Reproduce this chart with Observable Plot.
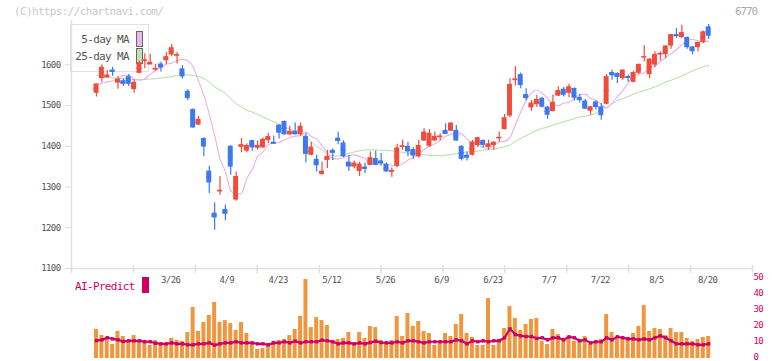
<!DOCTYPE html>
<html><head><meta charset="utf-8">
<script src="https://cdn.jsdelivr.net/npm/d3@7"></script>
<script src="https://cdn.jsdelivr.net/npm/@observablehq/plot@0.6"></script>
<style>
html,body{margin:0;padding:0;background:#fff;}
#wrap{position:relative;width:772px;height:361px;overflow:hidden;font-family:"DejaVu Sans Mono",monospace;}
#wrap svg{position:absolute;left:0;top:0;}
.t{position:absolute;white-space:nowrap;font-size:11px;line-height:12px;letter-spacing:-0.65px;}
</style></head><body>
<div id="wrap">
  <div style="position:absolute;left:70px;top:23.5px;width:79px;height:48px;box-sizing:border-box;border:1.5px solid #e2e2e2;background:#fff;"></div>
  <div class="t" style="left:70px;top:34px;width:59px;text-align:right;color:#555;">5-day MA</div>
  <div class="t" style="left:70px;top:50.5px;width:59px;text-align:right;color:#555;">25-day MA</div>
  <div style="position:absolute;left:136px;top:31px;width:7px;height:15.5px;box-sizing:border-box;border:1px solid #666;background:#eab8ea;"></div>
  <div style="position:absolute;left:136px;top:48px;width:7px;height:15.5px;box-sizing:border-box;border:1px solid #666;background:#bfe0b2;"></div>
  <div class="t" style="left:14px;top:6px;color:#c8c8c8;">(C)https://chartnavi.com/</div>
  <div class="t" style="left:735px;top:6px;color:#aaa;letter-spacing:-1.1px;">6770</div>
  <div class="t" style="left:75px;top:281px;color:#cc0066;">AI-Predict</div>
  <div style="position:absolute;left:142px;top:277px;width:7px;height:16px;background:#cc0066;"></div>
</div>
<script>
const dates = ["3/6","3/7","3/10","3/11","3/12","3/13","3/14","3/17","3/18","3/19","3/21","3/24","3/25","3/26","3/27","3/28","3/31",
"4/1","4/2","4/3","4/4","4/7","4/8","4/9","4/10","4/11","4/14","4/15","4/16","4/17","4/18","4/21","4/22","4/23","4/24","4/25","4/28","4/30",
"5/1","5/2","5/7","5/8","5/9","5/12","5/13","5/14","5/15","5/16","5/19","5/20","5/21","5/22","5/23","5/26","5/27","5/28","5/29","5/30",
"6/2","6/3","6/4","6/5","6/6","6/9","6/10","6/11","6/12","6/13","6/16","6/17","6/18","6/19","6/20","6/23","6/24","6/25","6/26","6/27","6/30",
"7/1","7/2","7/3","7/4","7/7","7/8","7/9","7/10","7/11","7/14","7/15","7/16","7/17","7/18","7/22","7/23","7/24","7/25","7/28","7/29","7/30","7/31",
"8/1","8/4","8/5","8/6","8/7","8/8","8/12","8/13","8/14","8/15","8/18","8/19","8/20","8/21"];

const open = [1530,1566,1568,1587,1555,1561,1571,1539,1579,1610,1600,1589,1602,1610,1624,1623,1590,1535,1490,1452,
1419,1339,1236,1290,1245,1400,1268,1398,1388,1414,1396,1396,1414,1410,1452,1461,1428,1437,1428,1424,
1378,1368,1331,1365,1390,1420,1408,1361,1349,1338,1349,1353,1370,1364,1356,1337,1351,1399,1400,1392,
1374,1413,1400,1413,1423,1439,1437,1439,1400,1378,1378,1402,1414,1397,1402,1420,1441,1474,1563,1576,
1527,1494,1502,1518,1496,1485,1523,1540,1530,1542,1520,1511,1486,1509,1497,1503,1581,1579,1566,1571,
1557,1579,1619,1576,1599,1626,1625,1646,1674,1667,1667,1644,1642,1655,1693];
const high = [1553,1600,1586,1594,1571,1566,1576,1563,1609,1627,1626,1601,1606,1630,1650,1630,1598,1539,1492,1473,
1421,1351,1261,1325,1256,1401,1337,1419,1406,1415,1413,1420,1432,1425,1453,1462,1449,1457,1457,1432,
1410,1378,1361,1390,1393,1435,1414,1378,1364,1361,1359,1386,1388,1382,1359,1347,1405,1415,1410,1397,
1414,1443,1441,1435,1431,1455,1458,1451,1401,1386,1415,1422,1416,1415,1411,1435,1478,1566,1596,1580,
1541,1512,1525,1519,1498,1526,1546,1544,1552,1543,1527,1515,1498,1511,1505,1576,1587,1580,1588,1575,
1584,1602,1647,1615,1632,1632,1647,1675,1689,1697,1668,1645,1656,1683,1699];
const low = [1521,1557,1567,1572,1540,1547,1547,1530,1579,1590,1600,1584,1582,1601,1620,1602,1565,1512,1444,1451,
1374,1284,1194,1280,1217,1329,1265,1384,1384,1388,1391,1395,1406,1405,1418,1427,1427,1428,1425,1359,
1377,1337,1329,1345,1365,1404,1372,1338,1345,1326,1333,1352,1352,1351,1336,1324,1347,1390,1374,1368,
1371,1412,1397,1412,1414,1429,1436,1412,1364,1364,1376,1397,1396,1390,1390,1410,1440,1470,1548,1541,
1512,1486,1496,1494,1466,1485,1522,1521,1519,1511,1506,1490,1476,1489,1464,1502,1562,1554,1562,1557,
1556,1576,1607,1566,1593,1609,1615,1638,1665,1664,1638,1625,1632,1652,1662];
const close = [1553,1594,1575,1582,1565,1552,1552,1557,1605,1612,1606,1591,1592,1620,1642,1625,1570,1517,1445,1466,
1398,1310,1224,1292,1233,1349,1326,1404,1402,1396,1402,1417,1424,1406,1432,1428,1437,1428,1449,1380,
1398,1352,1339,1375,1383,1412,1374,1349,1359,1356,1344,1372,1353,1357,1337,1341,1396,1401,1386,1376,
1402,1435,1432,1424,1425,1429,1457,1413,1368,1371,1410,1421,1402,1406,1410,1422,1470,1552,1565,1549,
1517,1506,1515,1496,1476,1508,1537,1525,1546,1518,1512,1491,1497,1495,1475,1571,1573,1569,1587,1568,
1581,1601,1620,1614,1625,1628,1646,1674,1670,1679,1642,1632,1655,1681,1670];

const ma5 = [1550,1555,1558,1561,1566,1574,1574,1565,1562,1566,1576,1586,1594,1601,1604,1610,1614,1610,1595,1560,
1525,1479,1427,1369,1338,1291,1282,1285,1321,1343,1375,1386,1404,1408,1409,1416,1421,1425,1426,1435,
1424,1418,1401,1384,1369,1369,1372,1377,1379,1375,1370,1356,1356,1357,1356,1353,1352,1357,1366,1372,
1380,1392,1400,1406,1414,1424,1429,1433,1430,1418,1408,1404,1397,1394,1402,1410,1412,1422,1452,1484,
1512,1531,1538,1530,1517,1502,1500,1506,1508,1518,1527,1528,1518,1513,1503,1494,1506,1522,1537,1555,
1574,1576,1581,1591,1597,1608,1618,1627,1637,1649,1659,1662,1659,1656,1658];
const ma25 = [1574,1572,1570,1568,1567,1566,1565,1564,1564,1564,1565,1566,1567,1569,1571,1574,1576,1575,1574,1571,
1566,1558,1546,1538,1530,1516,1505,1497,1488,1484,1478,1472,1466,1460,1454,1448,1442,1436,1431,1424,
1411,1400,1391,1381,1377,1376,1378,1383,1386,1389,1391,1391,1391,1390,1390,1389,1387,1385,1383,1382,
1381,1379,1378,1377,1377,1378,1380,1382,1384,1386,1387,1388,1390,1391,1393,1396,1399,1403,1412,1419,
1426,1433,1439,1444,1447,1452,1456,1460,1464,1468,1472,1474,1476,1482,1490,1496,1504,1512,1517,1522,
1528,1533,1537,1541,1546,1551,1558,1562,1567,1573,1579,1585,1590,1595,1599];

const volume = [18.2,14.4,11.7,8.8,17.0,13.8,11.3,14.4,11.3,10.9,8.2,11.3,9.4,9.4,12.6,11.3,10.7,16.3,32.0,17.0,
22.6,27.0,35.1,22.6,23.8,21.9,17.6,22.6,15.7,10.3,5.7,6.3,8.2,10.8,11.3,11.9,14.4,18.2,26.4,49.6,
19.4,25.7,23.8,20.7,10.9,11.9,12.6,16.3,9.6,16.3,12.6,20.1,19.4,11.3,10.3,11.3,26.4,13.8,28.2,20.1,
23.2,17.0,15.7,8.2,10.7,15.7,13.8,21.3,27.6,15.7,13.2,8.2,8.2,37.6,8.2,11.9,18.8,32.6,25.1,17.6,
21.3,24.5,25.1,10.7,8.8,18.2,15.1,11.3,13.8,10.7,10.7,13.8,8.8,10.7,11.9,27.6,16.3,11.9,13.2,13.2,
15.7,20.1,33.2,17.0,18.8,18.2,14.4,18.8,16.3,16.3,12.6,10.7,11.9,13.2,13.8];
const aiPredict = [11.2,11.7,13.0,12.3,11.7,10.7,11.1,11.1,11.1,10.5,10.5,9.6,9.2,9.2,9.8,9.2,9.2,8.6,8.6,9.2,
9.2,9.8,8.4,9.2,9.8,9.8,10.5,9.8,9.8,9.8,9.2,9.2,8.6,9.8,9.8,10.5,9.8,10.9,9.8,10.5,
10.5,10.5,11.5,11.1,10.5,9.2,9.8,9.8,9.2,9.8,9.2,10.0,10.9,10.0,9.8,9.8,10.5,9.8,11.1,11.1,
10.5,9.8,10.5,10.5,10.5,10.5,10.5,11.7,11.1,9.2,11.1,10.5,11.1,10.5,11.1,11.1,13.0,18.6,15.0,14.2,
13.8,13.8,12.6,13.0,11.7,13.0,13.0,11.7,13.6,13.0,11.1,11.7,9.8,10.5,10.5,13.0,11.7,13.6,13.0,12.3,
12.3,11.7,12.3,11.7,13.0,14.2,13.0,11.1,9.2,9.2,9.2,9.2,8.6,8.6,9.2];

const priceTicks = [1100,1200,1300,1400,1500,1600];
const aiTicks = [0,10,20,30,40,50];
const dateTickLabels = ["3/26","4/9","4/23","5/12","5/26","6/9","6/23","7/7","7/22","8/5","8/20"];

const W = 772, H = 361;
const RED = "#f04c3c", BLUE = "#3d78ee";
const xDomain = [-4.655, 122.16];
const candles = dates.map((d, i) => ({i, o: open[i], h: high[i], l: low[i], c: close[i]}));
const col = d => d.c >= d.o ? RED : BLUE;
const gridTicks = d3.range(12).map(k => xDomain[0] + k * (xDomain[1] - xDomain[0]) / 11);
const baseStyle = "background:transparent;font-family:'DejaVu Sans Mono',monospace;font-size:9px;letter-spacing:-0.6px;overflow:visible;";

const volPlot = Plot.plot({
  width: W, height: H, marginLeft: 71, marginRight: 20, marginTop: 278.3, marginBottom: 3,
  x: {domain: xDomain, axis: null},
  y: {domain: [0, 50]},
  style: baseStyle,
  marks: [
    Plot.rect(volume, {x1: (d, i) => i - 0.37, x2: (d, i) => i + 0.37, y1: 0, y2: d => d, fill: "#f0963e"}),
    Plot.line(aiPredict, {x: (d, i) => i, y: d => d, stroke: "#cc0066", strokeWidth: 2.2}),
    Plot.dot(aiPredict, {x: (d, i) => i, y: d => d, symbol: "square", r: 1.9, fill: "#cc0066"}),
    Plot.axisY({anchor: "right", ticks: aiTicks, tickSize: 0, tickPadding: 1, dy: -1.5, color: "#cc0066", label: null, tickFormat: d => String(d)})
  ]
});

const pricePlot = Plot.plot({
  width: W, height: H, marginLeft: 71, marginRight: 20, marginTop: 20, marginBottom: 93,
  x: {domain: xDomain, axis: null},
  y: {domain: [1100, 1708.7]},
  color: {type: "identity"},
  style: baseStyle,
  marks: [
    Plot.ruleX([xDomain[0]], {stroke: "#e0e0e0", strokeWidth: 1.5}),
    Plot.ruleY([priceTicks[0]], {stroke: "#e0e0e0", strokeWidth: 1.5}),
    Plot.ruleX(gridTicks, {x: d => d, y1: priceTicks[0], y2: priceTicks[0], insetTop: -3, insetBottom: -5, stroke: "#e0e0e0", strokeWidth: 1.5}),
    Plot.axisY({ticks: priceTicks, tickSize: 6, tickPadding: 5, stroke: "#dcdcdc", color: "#555", label: null, tickFormat: d => String(d)}),
    Plot.text(dateTickLabels, {x: d => dates.indexOf(d), frameAnchor: "bottom", dy: 14.5, dx: 14, textAnchor: "end", text: d => d, fill: "#555"}),
    Plot.line(ma25, {x: (d, i) => i, y: d => d, stroke: "#b5dca5", strokeWidth: 1, curve: "monotone-x"}),
    Plot.line(ma5, {x: (d, i) => i, y: d => d, stroke: "#e8b0e8", strokeWidth: 1.1, curve: "monotone-x"}),
    Plot.ruleX(candles, {x: "i", y1: "l", y2: "h", stroke: col, strokeWidth: 1.2}),
    Plot.rect(candles, {x1: d => d.i - 0.46, x2: d => d.i + 0.46, y1: "o", y2: "c", fill: col}),
    Plot.ruleY(candles, {x1: d => d.i - 0.46, x2: d => d.i + 0.46, y: d => (d.o + d.c) / 2, stroke: col, strokeWidth: 1.5})
  ]
});

const wrap = document.getElementById("wrap");
wrap.appendChild(volPlot);
wrap.appendChild(pricePlot);
</script>
</body></html>
